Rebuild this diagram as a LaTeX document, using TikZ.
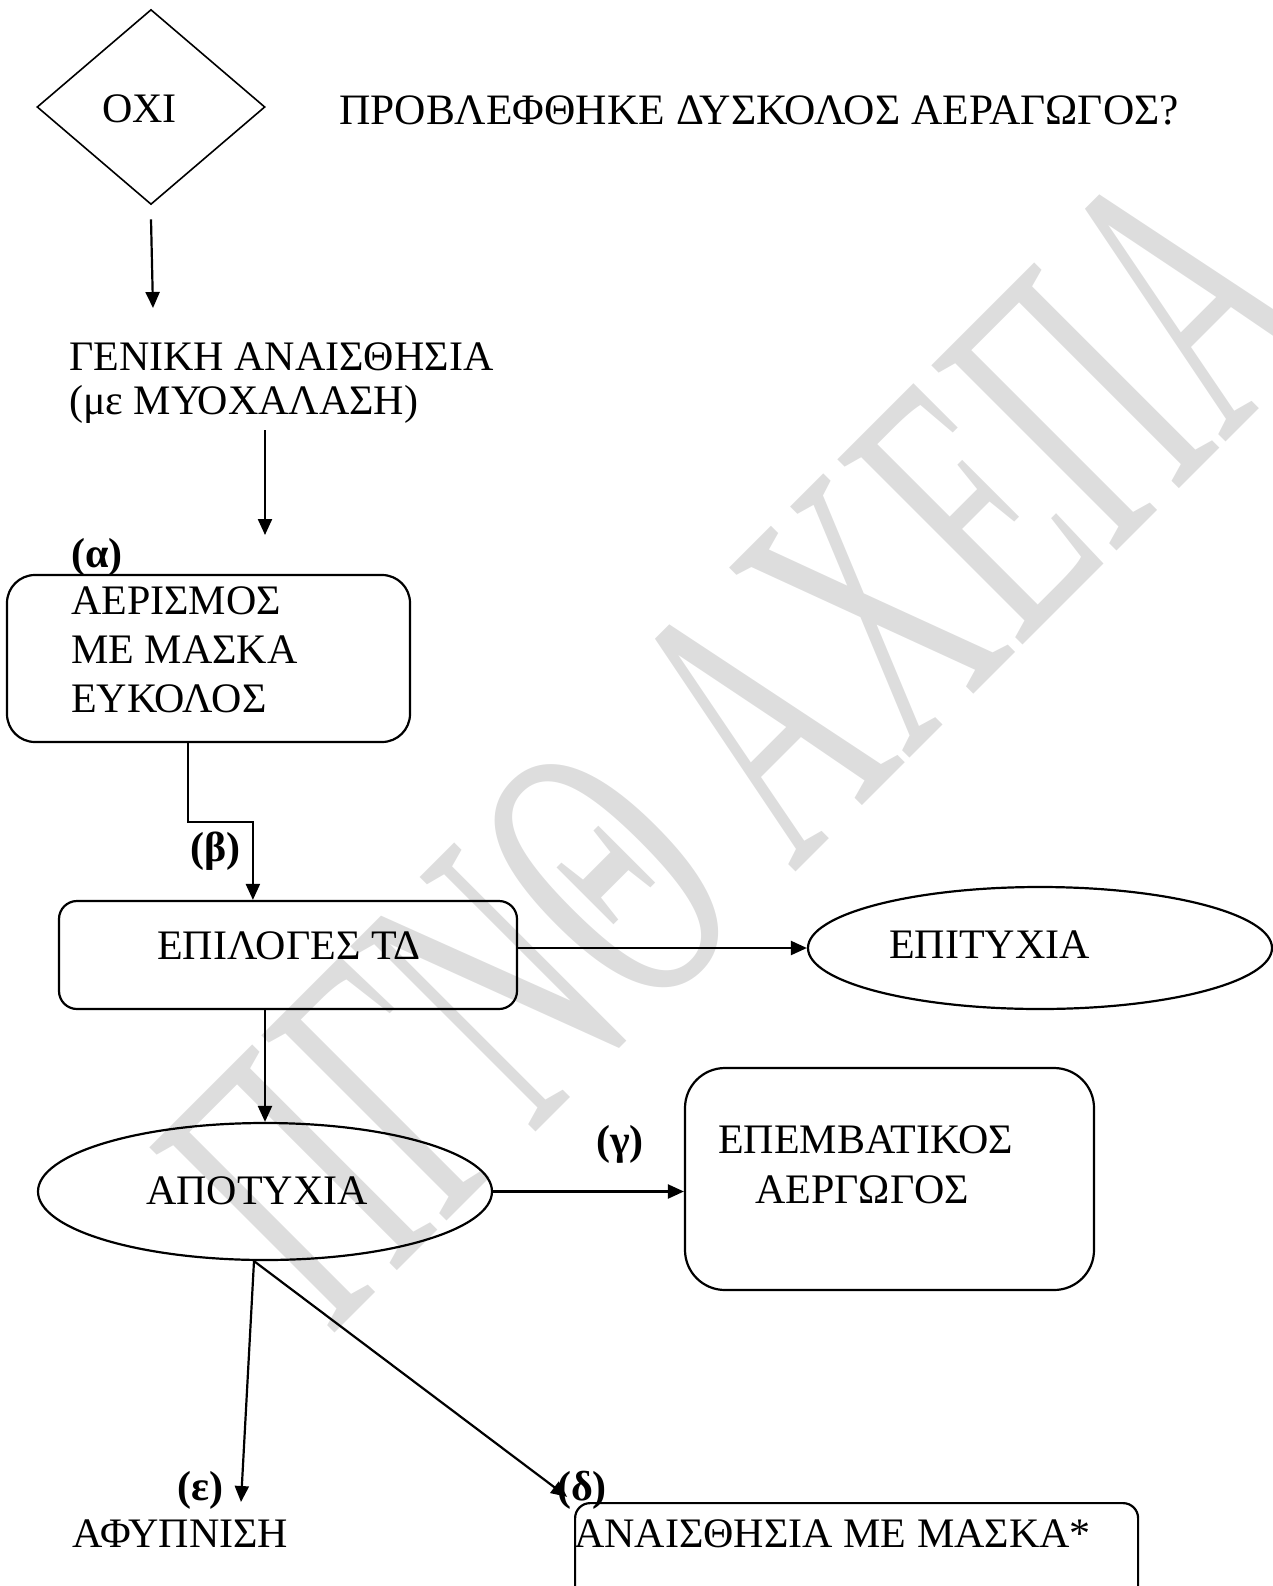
\documentclass[tikz,border=0pt]{standalone}
\usepackage{fontspec}
\setmainfont{Liberation Serif}
\usetikzlibrary{arrows.meta,shapes.geometric}
\definecolor{wmgray}{RGB}{221,221,221}
\begin{document}
\begin{tikzpicture}[x=1pt,y=-1pt,
  txt/.style={inner sep=0pt, anchor=base west, font=\fontsize{42}{48}\selectfont},
  lbl/.style={inner sep=0pt, anchor=base west, font=\fontsize{42}{48}\selectfont\bfseries},
  rbox/.style={draw, line width=2.2pt, rounded corners=#1, inner sep=0pt},
  oval/.style={draw, ellipse, line width=2.2pt, inner sep=0pt},
  arr/.style={line width=2.2pt, -{Triangle[length=16pt,width=14pt]}},
  wmtext/.style={inner sep=0pt, anchor=base west, rotate=45, text=wmgray, font=\fontsize{400}{400}\selectfont},
]
\useasboundingbox (0,0) rectangle (1273,1586);
\clip (0,0) rectangle (1273,1586);

% watermark
\node[wmtext] (wm) at (330,1338) {\scalebox{0.548}[1]{ΠΓΝΘ ΑΧΕΠΑ}};

% decision
\node[draw, diamond, line width=1.6pt, minimum width=228pt, minimum height=195pt, inner sep=0pt] (d) at (151,107) {};
\node[txt] (oxi) at (102,123) {ΟΧΙ};
\node[txt, font=\fontsize{43.4}{48}\selectfont] (title) at (339,125) {ΠΡΟΒΛΕΦΘΗΚΕ ΔΥΣΚΟΛΟΣ ΑΕΡΑΓΩΓΟΣ?};

\coordinate (a1e) at (153,308);
\draw[arr] ([yshift=-14pt]d.south) -- (a1e);

\node[txt, align=left, font=\fontsize{42}{44}\selectfont] (gen) at (69,414) {ΓΕΝΙΚΗ ΑΝΑΙΣΘΗΣΙΑ\\(με ΜΥΟΧΑΛΑΣΗ)};

\coordinate (a2s) at (265,430);
\coordinate (a2e) at (265,535);
\draw[arr] (a2s) -- (a2e);

\node[lbl] (la) at (71,567) {(α)};
\node[rbox=28pt, minimum width=403pt, minimum height=167pt] (aer) at (208.5,658.5) {};
\node[txt, align=left, font=\fontsize{42}{49}\selectfont] (aert) at (71,712) {ΑΕΡΙΣΜΟΣ\\ΜΕ ΜΑΣΚΑ\\ΕΥΚΟΛΟΣ};

\node[rbox=18pt, minimum width=458pt, minimum height=108pt] (epi) at (288,955) {};
\node[txt] (epit) at (157,959) {ΕΠΙΛΟΓΕΣ ΤΔ};
\draw[arr] ([xshift=182pt]aer.south west) -- ++(0,79) -| ([xshift=195pt]epi.north west);
\node[lbl] (lb) at (190,861) {(β)};

\node[oval, minimum width=464pt, minimum height=122pt] (suc) at (1040,948) {};
\node[txt] (suct) at (889,958) {ΕΠΙΤΥΧΙΑ};
\draw[arr] ([yshift=7pt]epi.east) -- (suc.west);

\node[oval, minimum width=454pt, minimum height=137pt] (apo) at (265,1191.5) {};
\node[txt] (apot) at (146,1204) {ΑΠΟΤΥΧΙΑ};
\draw[arr] ([xshift=-23pt]epi.south) -- (apo.north);

\node[rbox=40pt, minimum width=409pt, minimum height=222pt] (inv) at (889.5,1179) {};
\node[txt, align=left, font=\fontsize{42}{50}\selectfont] (invt) at (718,1203) {ΕΠΕΜΒΑΤΙΚΟΣ\\\hspace*{37pt}ΑΕΡΓΩΓΟΣ};
\draw[arr] (apo.east) -- (apo.east -| inv.west);
\node[lbl] (lg) at (596,1154) {(γ)};

\node[rbox=15pt, minimum width=563pt, minimum height=140pt, anchor=north west] (msk) at (574,1502) {};
\node[txt] (mskt) at (574,1547) {ΑΝΑΙΣΘΗΣΙΑ ΜΕ ΜΑΣΚΑ*};
\node[txt] (afy) at (72,1547) {ΑΦΥΠΝΙΣΗ};
\coordinate (e1) at (241,1502);
\draw[arr] ([xshift=-11pt]apo.south) -- (e1);
\draw[arr, shorten >=8.6pt] ([xshift=-11pt]apo.south) -- (msk.north west);
\node[lbl] (le) at (177,1500) {(ε)};
\node[lbl] (ld) at (557,1500) {(δ)};
\end{tikzpicture}
\end{document}
